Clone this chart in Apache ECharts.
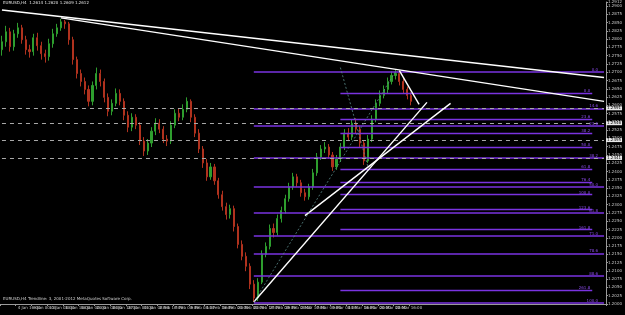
<!DOCTYPE html>
<html><head><meta charset="utf-8">
<script src="https://cdn.jsdelivr.net/npm/echarts@6/dist/echarts.min.js"></script>
<style>html,body{margin:0;padding:0;background:#000}#c{width:625px;height:315px}</style>
</head><body><div id="c"></div>
<script>
const opens = [1.2768,1.2792,1.2822,1.2777,1.2816,1.2834,1.2798,1.2768,1.2762,1.2804,
 1.2780,1.2756,1.2747,1.2786,1.2816,1.2834,1.2852,1.2846,1.2798,1.2738,
 1.2696,1.2672,1.2648,1.2612,1.2660,1.2696,1.2672,1.2624,1.2582,1.2606,
 1.2636,1.2612,1.2570,1.2534,1.2564,1.2540,1.2492,1.2462,1.2486,1.2522,
 1.2546,1.2528,1.2498,1.2492,1.2540,1.2576,1.2564,1.2588,1.2612,1.2564,
 1.2516,1.2468,1.2426,1.2384,1.2414,1.2372,1.2330,1.2294,1.2270,1.2288,
 1.2234,1.2180,1.2144,1.2114,1.2060,1.2018,1.2066,1.2150,1.2174,1.2228,
 1.2216,1.2258,1.2282,1.2318,1.2354,1.2384,1.2366,1.2336,1.2324,1.2354,
 1.2396,1.2444,1.2468,1.2474,1.2450,1.2414,1.2438,1.2474,1.2516,1.2504,
 1.2546,1.2528,1.2486,1.2432,1.2498,1.2558,1.2606,1.2630,1.2648,1.2672,
 1.2690,1.2696,1.2672,1.2648,1.2630];
const closes = [1.2792,1.2822,1.2777,1.2816,1.2834,1.2798,1.2768,1.2762,1.2804,1.2780,
 1.2756,1.2747,1.2786,1.2816,1.2834,1.2852,1.2846,1.2798,1.2738,1.2696,
 1.2672,1.2648,1.2612,1.2660,1.2696,1.2672,1.2624,1.2582,1.2606,1.2636,
 1.2612,1.2570,1.2534,1.2564,1.2540,1.2492,1.2462,1.2486,1.2522,1.2546,
 1.2528,1.2498,1.2492,1.2540,1.2576,1.2564,1.2588,1.2612,1.2564,1.2516,
 1.2468,1.2426,1.2384,1.2414,1.2372,1.2330,1.2294,1.2270,1.2288,1.2234,
 1.2180,1.2144,1.2114,1.2060,1.2018,1.2066,1.2150,1.2174,1.2228,1.2216,
 1.2258,1.2282,1.2318,1.2354,1.2384,1.2366,1.2336,1.2324,1.2354,1.2396,
 1.2444,1.2468,1.2474,1.2450,1.2414,1.2438,1.2474,1.2516,1.2504,1.2546,
 1.2528,1.2486,1.2432,1.2498,1.2558,1.2606,1.2630,1.2648,1.2672,1.2690,
 1.2696,1.2672,1.2648,1.2630,1.2612];
const highs = [1.2810,1.2840,1.2834,1.2828,1.2849,1.2843,1.2810,1.2783,1.2816,1.2819,
 1.2792,1.2768,1.2801,1.2831,1.2846,1.2861,1.2858,1.2852,1.2807,1.2747,
 1.2708,1.2684,1.2660,1.2672,1.2714,1.2708,1.2681,1.2636,1.2618,1.2651,
 1.2648,1.2621,1.2582,1.2576,1.2573,1.2549,1.2504,1.2498,1.2534,1.2561,
 1.2558,1.2537,1.2510,1.2552,1.2588,1.2591,1.2603,1.2624,1.2618,1.2573,
 1.2528,1.2477,1.2438,1.2426,1.2423,1.2381,1.2342,1.2306,1.2300,1.2297,
 1.2243,1.2192,1.2156,1.2123,1.2072,1.2078,1.2162,1.2186,1.2240,1.2243,
 1.2270,1.2294,1.2330,1.2366,1.2396,1.2393,1.2375,1.2348,1.2363,1.2408,
 1.2456,1.2480,1.2489,1.2483,1.2459,1.2450,1.2486,1.2528,1.2531,1.2558,
 1.2561,1.2537,1.2495,1.2510,1.2570,1.2618,1.2645,1.2660,1.2684,1.2702,
 1.2708,1.2705,1.2681,1.2657,1.2639];
const lows = [1.2750,1.2777,1.2762,1.2765,1.2804,1.2786,1.2753,1.2744,1.2750,1.2765,
 1.2738,1.2729,1.2735,1.2774,1.2807,1.2825,1.2831,1.2783,1.2723,1.2681,
 1.2657,1.2633,1.2597,1.2600,1.2648,1.2657,1.2609,1.2567,1.2570,1.2597,
 1.2600,1.2555,1.2519,1.2522,1.2528,1.2480,1.2447,1.2450,1.2474,1.2510,
 1.2516,1.2486,1.2477,1.2483,1.2531,1.2552,1.2555,1.2579,1.2549,1.2504,
 1.2456,1.2411,1.2372,1.2375,1.2360,1.2318,1.2282,1.2255,1.2258,1.2219,
 1.2168,1.2132,1.2099,1.2045,1.2006,1.2009,1.2060,1.2141,1.2165,1.2201,
 1.2207,1.2246,1.2273,1.2309,1.2345,1.2354,1.2324,1.2312,1.2315,1.2345,
 1.2387,1.2435,1.2456,1.2438,1.2402,1.2405,1.2429,1.2465,1.2492,1.2495,
 1.2516,1.2474,1.2420,1.2426,1.2489,1.2549,1.2597,1.2621,1.2636,1.2663,
 1.2678,1.2660,1.2636,1.2618,1.2600];

const dateLabels = ['2 Jan 2012','4 Jan 16:00','9 Jan 00:00','11 Jan 08:00','13 Jan 16:00','18 Jan 00:00',
 '20 Jan 08:00','24 Jan 16:00','27 Jan 00:00','31 Jan 08:00','2 Feb 16:00','7 Feb 00:00','9 Feb 08:00',
 '13 Feb 16:00','16 Feb 00:00','20 Feb 08:00','22 Feb 16:00','27 Feb 00:00','29 Feb 08:00','2 Mar 16:00',
 '7 Mar 00:00','9 Mar 08:00','13 Mar 16:00','16 Mar 00:00','20 Mar 08:00','22 Mar 16:00','27 Mar 00:00'];
const slotCount = 154;
const labelStep = 4;

const fibA = [1.2702,1.2591,1.2537,1.2441,1.2354,1.2276,1.2207,1.2153,1.2084,1.2003];
const fibALabels = ['0.0','14.6','23.6','38.2','50.0','61.8','71.0','78.6','88.6','100.0'];
const fibAStart = 64;
const fibB = [1.2636,1.2558,1.2516,1.2474,1.2408,1.2369,1.2330,1.2285,1.2225,1.2042];
const fibBLabels = ['0.0','23.6','38.2','50.0','61.8','76.4','100.0','123.6','161.8','261.8'];
const fibBStart = 86;
const fibBEnd = 150;
const srLevels = [1.2591,1.2546,1.2495,1.2441];
const trendLines = [
  [[0,1.2888],[153,1.2684]],
  [[15,1.2864],[153,1.2612]],
  [[64,1.2006],[108,1.2609]],
  [[77,1.2267],[114,1.2606]],
  [[101,1.2705],[106,1.2603]]
];
const diagLines = [
  [[64,1.2006],[100,1.2702]],
  [[86,1.2714],[93,1.2414]]
];
const yMin = 1.2000, yMax = 1.2912, yStep = 0.0025;

const categories = [];
for (let i = 0; i < slotCount; i++) {
  categories.push(i % labelStep === 0 && i / labelStep < dateLabels.length ? dateLabels[i / labelStep] : '#' + i);
}
const candles = opens.map((o, i) => [o, closes[i], lows[i], highs[i]]);
const lastIdx = slotCount - 1;
const purple = '#7a33e0';

const ml = [];
fibA.forEach((p, k) => ml.push([
  {coord:[fibAStart,p], lineStyle:{color:purple,width:1.6,type:'solid',opacity:1},
   label:{show:true,formatter:fibALabels[k],position:'insideEndTop',color:'#8a4ae8',fontSize:4,distance:[6,0]}},
  {coord:[lastIdx,p], lineStyle:{color:purple,width:1.6,type:'solid',opacity:1}}]));
fibB.forEach((p, k) => ml.push([
  {coord:[fibBStart,p], lineStyle:{color:purple,width:1.4,type:'solid',opacity:1},
   label:{show:true,formatter:fibBLabels[k],position:'insideEndTop',color:'#8a4ae8',fontSize:4,distance:[2,0]}},
  {coord:[fibBEnd,p], lineStyle:{color:purple,width:1.4,type:'solid',opacity:1}}]));
srLevels.forEach(p => ml.push([
  {coord:[0,p], lineStyle:{color:'#a8a8a8',width:1,type:[4,4]},
   label:{show:true,position:'end',formatter:p.toFixed(4),backgroundColor:'#e8e8e8',color:'#000',fontSize:4,padding:[0,1],distance:2}},
  {coord:[lastIdx,p], lineStyle:{color:'#a8a8a8',width:1,type:[4,4]}}]));
trendLines.forEach(t => ml.push([
  {coord:t[0], lineStyle:{color:'#ffffff',width:1.4,type:'solid'}, label:{show:false}},
  {coord:t[1], lineStyle:{color:'#ffffff',width:1.4,type:'solid'}}]));
diagLines.forEach(t => ml.push([
  {coord:t[0], lineStyle:{color:'#5a8a8a',width:0.8,type:[2,2]}, label:{show:false}},
  {coord:t[1], lineStyle:{color:'#5a8a8a',width:0.8,type:[2,2]}}]));

const chart = echarts.init(document.getElementById('c'));
chart.setOption({
  backgroundColor:'#000',
  animation:false,
  textStyle:{fontFamily:'DejaVu Sans'},
  grid:{left:0,right:10,top:0,bottom:11,containLabel:false},
  xAxis:{type:'category',data:categories,boundaryGap:true,
    axisLine:{show:true,lineStyle:{color:'#9a9a9a'}},
    axisTick:{show:true,length:2,lineStyle:{color:'#9a9a9a'},interval:(i)=> i%labelStep===0 && i/labelStep<dateLabels.length},
    axisLabel:{interval:(i)=> i%labelStep===0 && i/labelStep<dateLabels.length,color:'#c8c8c8',fontSize:4,align:'left',margin:2,
      formatter:(v)=> v.charAt(0)==='#'?'':v},
    splitLine:{show:false}},
  yAxis:{type:'value',position:'right',min:yMin,max:yMax,interval:yStep,scale:true,
    axisLine:{show:true,lineStyle:{color:'#9a9a9a'}},
    axisTick:{show:true,length:2,lineStyle:{color:'#9a9a9a'}},
    axisLabel:{color:'#c8c8c8',fontSize:4,margin:2,formatter:(v)=>v.toFixed(4)},
    splitLine:{show:false}},
  graphic:[
    {type:'text',left:3,top:1,style:{text:'EURUSD,H4  1.2614 1.2620 1.2609 1.2612',fill:'#e0e0e0',fontSize:4,fontFamily:'DejaVu Sans'}},
    {type:'text',left:3,top:297,style:{text:'EURUSD,H4 Trendline: 3, 2001-2012 MetaQuotes Software Corp.',fill:'#d0d0d0',fontSize:4,fontFamily:'DejaVu Sans'}}
  ],
  series:[{
    type:'candlestick',
    data:candles,
    barWidth:1.6,
    itemStyle:{color:'#2e9e2e',color0:'#b0321e',borderColor:'#2e9e2e',borderColor0:'#b0321e',borderWidth:1},
    markLine:{symbol:['none','none'],silent:true,data:ml,animation:false,z:10}
  }]
});
</script></body></html>
